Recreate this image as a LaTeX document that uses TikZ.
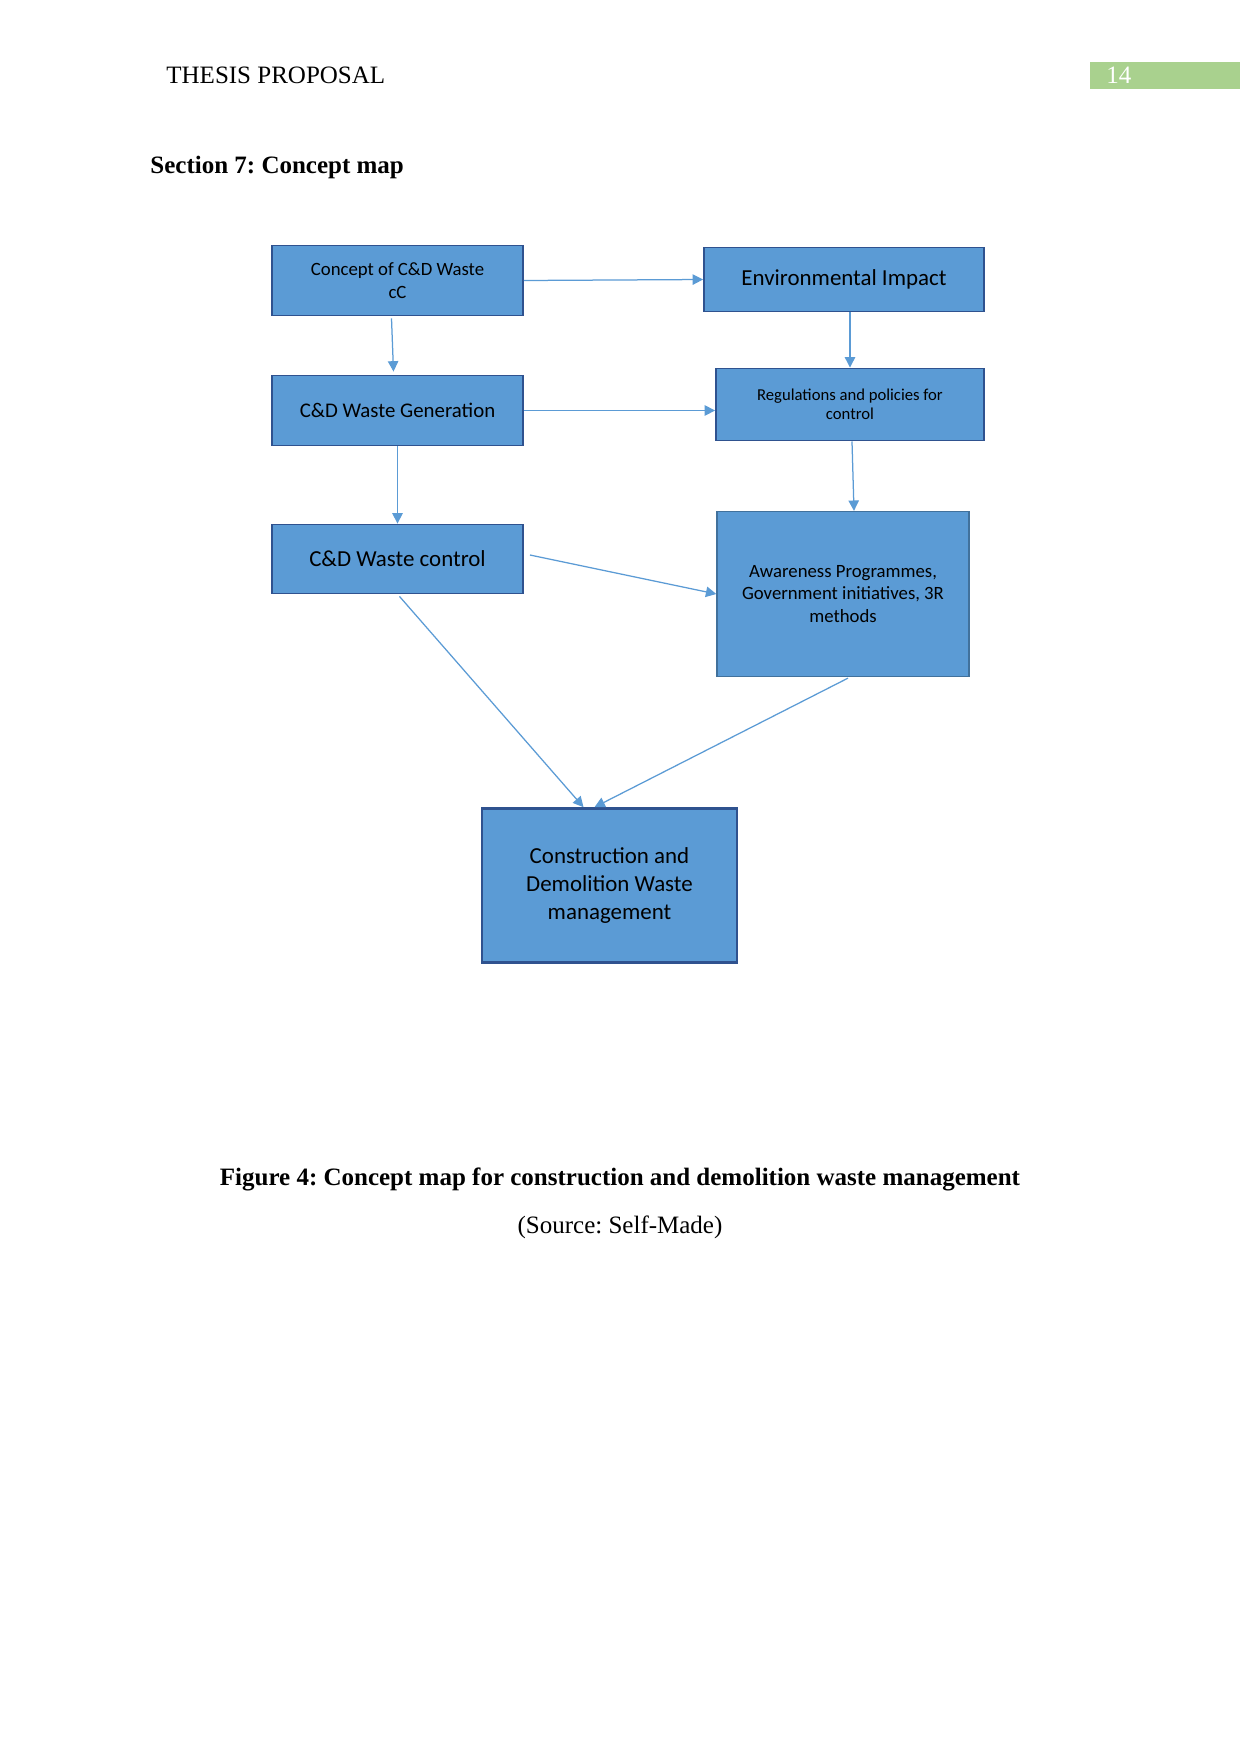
\documentclass[tikz,border=0pt]{standalone}
\usepackage{fontspec}
\setmainfont{Liberation Serif}
\newfontfamily\boxfont{Carlito}
\usetikzlibrary{arrows.meta,calc}
\definecolor{boxfill}{HTML}{5B9BD5}
\definecolor{boxline}{HTML}{2F528F}
\definecolor{boxlinelight}{HTML}{41719C}
\definecolor{arrowc}{HTML}{5B9BD5}
\definecolor{pagegreen}{HTML}{A9D18E}
\frenchspacing
\tikzset{
  cbox/.style={draw=boxline, line width=0.9pt, fill=boxfill, align=center, inner sep=0pt, font=\boxfont, text=black},
  conn/.style={draw=arrowc, line width=0.6pt, -{Triangle[length=5pt,width=5pt]}}
}
\begin{document}
\begin{tikzpicture}[x=0.48pt,y=-0.48pt]
\useasboundingbox (0,0) rectangle (1241,1754);
\fill[white] (0,0) rectangle (1241,1754);
% header
\node[anchor=base west, inner sep=0pt, font=\fontsize{12}{14}\selectfont] (hdr) at (166,83) {THESIS PROPOSAL};
\fill[pagegreen] (1090,61.5) rectangle (1240,88.5);
\node[anchor=base west, inner sep=0pt, text=white, font=\fontsize{12}{14}\selectfont] (pg) at (1106,83) {14};
\node[anchor=west, inner sep=0pt, font=\fontsize{12}{14}\selectfont\bfseries] (sec) at (150,167) {Section 7: Concept map};
% boxes
\node[cbox, minimum width=120.5pt, minimum height=33.6pt, font=\boxfont\fontsize{9}{10.7}\selectfont] (c1) at (397.5,280.5) {Concept of C\&D Waste\\cC};
\node[cbox, minimum width=134.4pt, minimum height=30.7pt, font=\boxfont\fontsize{11}{13}\selectfont] (env) at (844,279.5) {Environmental Impact};
\node[cbox, minimum width=120.5pt, minimum height=33.6pt, font=\boxfont\fontsize{10}{12}\selectfont] (gen) at (397.5,410.5) {C\&D Waste Generation};
\node[cbox, minimum width=128.6pt, minimum height=34.6pt, font=\boxfont\fontsize{8}{9.2}\selectfont] (reg) at (850,404.5) {Regulations and policies for\\control};
\node[cbox, minimum width=120.5pt, minimum height=33.1pt, font=\boxfont\fontsize{11}{13}\selectfont] (ctl) at (397.5,559) {C\&D Waste control};
\node[cbox, draw=boxlinelight, line width=0.6pt, minimum width=121pt, minimum height=79.2pt, font=\boxfont\fontsize{9}{11}\selectfont] (awa) at (843,594) {Awareness Programmes,\\Government initiatives, 3R\\methods};
\node[cbox, line width=1.3pt, minimum width=122.4pt, minimum height=73.9pt, font=\boxfont\fontsize{11}{13.4}\selectfont] (cdm) at (609.5,885.5) {Construction and\\Demolition Waste\\management};
% connectors
\draw[conn] (c1.east) -- (env.west);
\draw[conn] ($(c1.south)+(-6,2)$) -- ($(gen.north)+(-4,-3)$);
\draw[conn] ($(env.south)+(6,0)$) -- (reg.north);
\draw[conn] (gen.east) -- (reg.west |- gen.east);
\draw[conn] (gen.south) -- (ctl.north);
\draw[conn] ($(reg.south)+(2,0)$) -- ($(awa.north)+(11,0)$);
\draw[conn] ($(ctl.east)+(6,-4)$) -- (awa.west);
\draw[conn] ($(ctl.south)+(2,2)$) -- ($(cdm.north)+(-26,0)$);
\draw[conn] ($(awa.south)+(5,1)$) -- ($(cdm.north)+(-15,0)$);
% caption
\node[inner sep=0pt, font=\fontsize{12}{14}\selectfont\bfseries] (cap) at (620,1179.5) {Figure 4: Concept map for construction and demolition waste management};
\node[inner sep=0pt, font=\fontsize{12}{14}\selectfont] (src) at (620,1227.5) {(Source: Self-Made)};
\end{tikzpicture}
\end{document}
